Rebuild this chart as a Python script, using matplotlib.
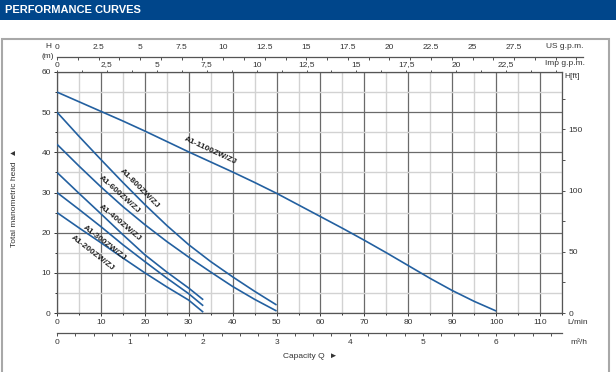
import matplotlib
matplotlib.use("Agg")
import matplotlib.pyplot as plt
from matplotlib.patches import Rectangle
from matplotlib.ticker import MultipleLocator

plt.rcParams['font.family'] = ['Liberation Sans', 'DejaVu Sans']

# flow in L/min, head in m
q_1100 = [0, 5, 10, 15, 20, 25, 30, 35, 40, 45, 50, 55, 60, 65, 70, 75, 80, 85, 90, 95, 100]
h_1100 = [55, 52.6, 50.2, 47.8, 45.3, 42.7, 40.1, 37.6, 35.1, 32.5, 29.8, 26.9, 24.0, 21.1,
          18.1, 15.0, 11.8, 8.6, 5.6, 2.9, 0.5]
q_800 = [0, 5, 10, 15, 20, 25, 30, 35, 40, 45, 50]
h_800 = [50, 44, 38.2, 32.5, 27, 21.8, 17, 12.8, 9, 5.4, 2]
q_600 = [0, 5, 10, 15, 20, 25, 30, 35, 40, 45, 50]
h_600 = [42, 36.6, 31.4, 26.5, 22, 17.8, 13.9, 10.2, 6.6, 3.4, 0.5]
q_400 = [0, 5, 10, 15, 20, 25, 30, 33.3]
h_400 = [35, 29.8, 24.7, 19.5, 14.5, 10.2, 6.2, 3.3]
q_300 = [0, 5, 10, 15, 20, 25, 30, 33.3]
h_300 = [30, 25.8, 21.5, 17, 12.8, 8.7, 4.8, 1.8]
q_200 = [0, 5, 10, 15, 20, 25, 30, 33.3]
h_200 = [25, 21.2, 17.5, 13.7, 10, 6.5, 3.2, 0.2]

models = ["A1-1100ZW/ZJ", "A1-800ZW/ZJ", "A1-600ZW/ZJ", "A1-400ZW/ZJ", "A1-300ZW/ZJ", "A1-200ZW/ZJ"]
series = [(q_1100, h_1100), (q_800, h_800), (q_600, h_600),
          (q_400, h_400), (q_300, h_300), (q_200, h_200)]
# label placement (L/min, m, angle)
label_pos = [(34.9, 40.3, -25), (18.8, 31.0, -45), (14.1, 29.4, -42),
             (14.4, 22.4, -40), (10.9, 17.4, -38), (8.1, 14.9, -38)]

LPM_PER_USGPM = 3.785
LPM_PER_IMPGPM = 4.546
LPM_PER_M3H = 1000 / 60.0
FT_PER_M = 3.281

FW, FH = 616, 372
fig = plt.figure(figsize=(FW / 100, FH / 100), dpi=100)

# header bar
fig.patches.append(Rectangle((0, 1 - 20 / FH), 1, 20 / FH, transform=fig.transFigure,
                             facecolor='#00468b', edgecolor='none', zorder=0))
fig.text(5 / FW, 1 - 10 / FH, "PERFORMANCE CURVES", color='white', fontsize=8,
         fontweight='bold', va='center', ha='left')
# frame around the chart
fig.patches.append(Rectangle((2 / FW, -0.05), 607 / FW, 1.05 - 39 / FH, transform=fig.transFigure,
                             facecolor='none', edgecolor='#a8a8a8', linewidth=1.5, zorder=0))

x0, x1, y0, y1 = 57, 562, 72, 313
ax = fig.add_axes([x0 / FW, 1 - y1 / FH, (x1 - x0) / FW, (y1 - y0) / FH])
ax.set_xlim(0, 115)
ax.set_ylim(0, 60)

ax.xaxis.set_major_locator(MultipleLocator(10))
ax.xaxis.set_minor_locator(MultipleLocator(5))
ax.yaxis.set_major_locator(MultipleLocator(10))
ax.yaxis.set_minor_locator(MultipleLocator(5))
ax.grid(which='minor', color='#d2d2d2', linewidth=1.0, zorder=1)
ax.grid(which='major', color='#6a6a6a', linewidth=0.9, zorder=2)
ax.set_axisbelow(True)
for s in ax.spines.values():
    s.set_color('#555555')
    s.set_linewidth(0.9)
ax.tick_params(which='both', labelsize=6, colors='#333333', length=2.5, width=0.7, pad=2)
ax.tick_params(which='minor', length=1.5)

for (q, h), name, (lx, ly, rot) in zip(series, models, label_pos):
    ax.plot(q, h, color='#2360a0', linewidth=1.2, zorder=5, solid_capstyle='butt')
    ax.text(lx, ly, name, rotation=rot, rotation_mode='anchor', ha='center', va='center',
            fontsize=6, fontweight='bold', color='#222222', zorder=6)

# top: Imp g.p.m.
imp = ax.secondary_xaxis('top', functions=(lambda v: v / LPM_PER_IMPGPM, lambda v: v * LPM_PER_IMPGPM))
imp.xaxis.set_minor_locator(MultipleLocator(1.25))
imp.set_xticks([0, 2.5, 5, 7.5, 10, 12.5, 15, 17.5, 20, 22.5],
               ['0', '2,5', '5', '7,5', '10', '12,5', '15', '17,5', '20', '22,5'])
imp.tick_params(which='both', labelsize=6, colors='#333333', length=1.5, width=0.6, pad=1)
imp.spines['top'].set_visible(False)

# right: H[ft]
ft = ax.secondary_yaxis('right', functions=(lambda v: v * FT_PER_M, lambda v: v / FT_PER_M))
ft.yaxis.set_major_locator(MultipleLocator(50))
ft.yaxis.set_minor_locator(MultipleLocator(25))
ft.tick_params(which='both', labelsize=6, colors='#333333', length=2.5, width=0.6, pad=2)
ft.spines['right'].set_visible(False)

# bottom second scale: m3/h
m3 = ax.secondary_xaxis((y1 - 332.7) / (y1 - y0),
                        functions=(lambda v: v / LPM_PER_M3H, lambda v: v * LPM_PER_M3H))
m3.xaxis.set_major_locator(MultipleLocator(1))
m3.xaxis.set_minor_locator(MultipleLocator(0.25))
m3.tick_params(which='both', labelsize=6, colors='#333333', length=2.5, width=0.6, pad=2)
m3.tick_params(which='minor', length=1.8)
m3.spines['bottom'].set_color('#555555')
m3.spines['bottom'].set_linewidth(0.9)

# US g.p.m. scale, a separate line above the chart
ux1 = 583
us_top = fig.add_axes([x0 / FW, 1 - 57 / FH, (ux1 - x0) / FW, 0.0001])
us_top.set_xlim(0, 115 * (ux1 - x0) / (x1 - x0) / LPM_PER_USGPM)
us_top.set_yticks([])
for k in ['left', 'right', 'bottom']:
    us_top.spines[k].set_visible(False)
us_top.spines['top'].set_color('#555555')
us_top.spines['top'].set_linewidth(0.9)
us_top.patch.set_visible(False)
us_top.xaxis.tick_top()
us_top.set_xticks([0, 2.5, 5, 7.5, 10, 12.5, 15, 17.5, 20, 22.5, 25, 27.5])
us_top.set_xticklabels(['0', '2.5', '5', '7.5', '10', '12.5', '15', '17.5', '20', '22.5', '25', '27.5'])
us_top.xaxis.set_minor_locator(MultipleLocator(1.25))
us_top.tick_params(which='both', direction='in', labelsize=6, colors='#333333', length=2.5,
                   width=0.6, pad=4)

# axis texts
tc = '#333333'
fig.text(546 / FW, 1 - 46 / FH, "US g.p.m.", fontsize=6, color=tc, ha='left', va='center')
fig.text(545 / FW, 1 - 63.5 / FH, "Imp g.p.m.", fontsize=6, color=tc, ha='left', va='center')
fig.text(564 / FW, 1 - 76 / FH, "H[ft]", fontsize=6, color=tc, ha='left', va='center')
fig.text(567 / FW, 1 - 322 / FH, "L/min", fontsize=6, color=tc, ha='left', va='center')
fig.text(570 / FW, 1 - 342 / FH, "m³/h", fontsize=6, color=tc, ha='left', va='center')
fig.text(48 / FW, 1 - 47 / FH, "H", fontsize=6, color=tc, ha='center', va='center')
fig.text(48 / FW, 1 - 57 / FH, "(m)", fontsize=6, color=tc, ha='center', va='center')
fig.text(310 / FW, 1 - 356 / FH, "Capacity Q  \u25ba", fontsize=6, color=tc, ha='center', va='center',
         family=['Liberation Sans', 'DejaVu Sans'])
fig.text(15 / FW, 1 - 198 / FH, "Total manometric head  \u25b2", fontsize=6, color=tc,
         rotation=90, ha='center', va='center', family=['Liberation Sans', 'DejaVu Sans'])

fig.savefig("out.png", dpi=100)
